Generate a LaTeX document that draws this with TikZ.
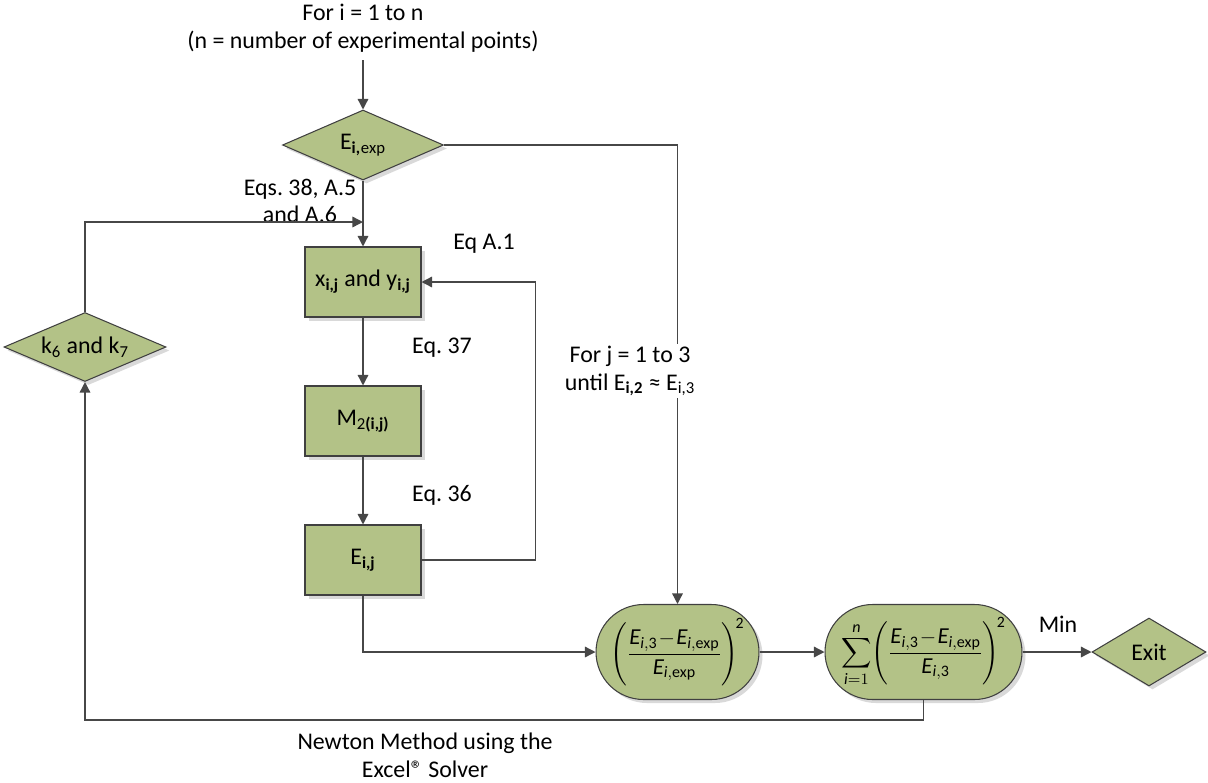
\documentclass[tikz,border=0pt]{standalone}
\usepackage{amsmath}
\usepackage{fontspec}
\setmainfont{Carlito}
\frenchspacing
\usetikzlibrary{shapes.geometric,shapes.misc,arrows.meta,shadows}
\definecolor{boxfill}{HTML}{B3C287}
\definecolor{edge}{HTML}{404040}
\definecolor{wire}{HTML}{474747}
\newcommand{\bsub}[1]{\textsubscript{\textbf{#1}}}
\newcommand{\iE}{\text{\itshape E}}
\newcommand{\isub}[1]{\text{\itshape i},\text{#1}}
\begin{document}
\begin{tikzpicture}[x=0.02cm,y=-0.02cm,
  font=\fontsize{13.6}{15.8}\selectfont,
  shade/.style={drop shadow={shadow xshift=2pt,shadow yshift=-2pt,fill=black!25,opacity=0.6}},
  procbox/.style={rectangle,draw=edge,line width=0.6pt,fill=boxfill,minimum width=2.32cm,minimum height=1.4cm,inner sep=0pt,shade},
  decis/.style={diamond,draw=edge,line width=0.6pt,fill=boxfill,inner sep=0pt,shade},
  term/.style={rounded rectangle,draw=edge,line width=0.6pt,fill=boxfill,minimum height=1.9cm,inner sep=0pt,rounded rectangle arc length=180,shade,font=\fontsize{13}{15}\selectfont},
  lbl/.style={align=center,inner sep=0pt},
  conn/.style={draw=wire,line width=0.8pt},
  arr/.style={conn,-{Triangle[length=6pt,width=6pt]}}]
\useasboundingbox (0,0) rectangle (1208,782);

\node[lbl] (top) at (363,28) {For i = 1 to n\\(n = number of experimental points)};
\node[decis,shape aspect=2.3,minimum width=3.22cm,minimum height=1.4cm] (d1) at (363,145) {E\bsub{i,}\textsubscript{exp}};
\node[procbox] (x) at (363,282) {x\bsub{i,j} and y\bsub{i,j}};
\node[procbox] (m) at (363,421) {M\textsubscript{2\textbf{(i,j)}}};
\node[procbox] (e) at (363,560) {E\bsub{i,j}};
\node[decis,shape aspect=2.35,minimum width=3.24cm,minimum height=1.38cm] (k) at (85,347) {k\textsubscript{6} and k\textsubscript{7}};
\node[term,minimum width=3.26cm] (n1) at (677.5,652) {$\Biggl(\dfrac{\iE_{\isub{3}}\!-\!\iE_{\isub{exp}}}{\iE_{\isub{exp}}}\Biggr)^{\!\text{\small 2}}$};
\node[term,minimum width=3.94cm] (n2) at (923.5,652) {$\displaystyle\sum_{\text{\itshape i}=1}^{\text{\itshape n}}\Biggl(\dfrac{\iE_{\isub{3}}\!-\!\iE_{\isub{exp}}}{\iE_{\isub{3}}}\Biggr)^{\!\text{\small 2}}$};
\node[decis,shape aspect=1.68,minimum width=2.28cm,minimum height=1.36cm] (exit) at (1149,652) {Exit};

\coordinate (j) at (363,222);

\node[lbl] at (300,201) {Eqs. 38, A.5\\and A.6};
\node[lbl] at (484,244) {Eq A.1};
\node[lbl] at (442,348) {Eq. 37};
\node[lbl] at (442,495) {Eq. 36};
\node[lbl] at (1058,624) {Min};
\node[lbl] at (425,755) {Newton Method using the\\Excel® Solver};

\draw[arr] (363,60) -- (d1.north);
\draw[arr] (d1.south) -- (x.north);
\draw[arr] (k.north) |- (j);
\draw[arr] (x.south) -- (m.north);
\draw[arr] (m.south) -- (e.north);
\draw[arr] (e.east) -- ++(114,0) |- (x.east);
\draw[arr] (d1.east) -| (n1.north);
\draw[arr] (e.south) |- (n1.west);
\draw[arr] (n1.east) -- (n2.west);
\draw[arr] (n2.east) -- (exit.west);
\draw[arr] (n2.south) -- ++(0,20) -| (k.south);

\node[lbl,fill=white,inner sep=1pt] at (630,371) {For j = 1 to 3\\until E\bsub{i,2} ≈ E\textsubscript{i,3}};
\end{tikzpicture}
\end{document}
